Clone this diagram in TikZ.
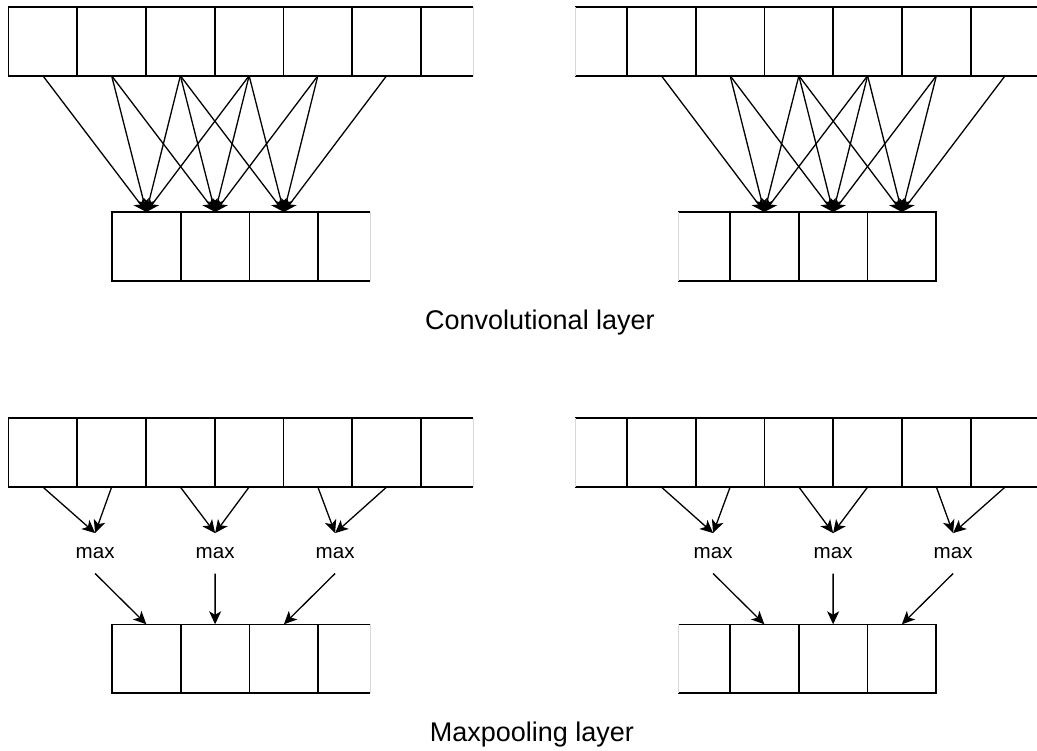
\documentclass[tikz,border=0pt]{standalone}
\usepackage{fontspec}
\setmainfont{Liberation Sans}
\usetikzlibrary{positioning,arrows.meta}
\tikzstyle{cell} = [rectangle, minimum width=68.75pt, minimum height=68.75pt, inner sep=0pt, outer sep=0pt, draw=black, line width=1.6pt]
\tikzstyle{halfcell} = [rectangle, minimum width=52pt, minimum height=68.75pt, inner sep=0pt, outer sep=0pt]
\tikzstyle{edge} = [draw=black, line width=1.6pt]
\tikzstyle{faint} = [draw=black!15, line width=1pt]
\tikzstyle{arrow} = [line width=1.3pt, -{Stealth[length=13pt,width=12pt,inset=3.5pt]}]
\tikzstyle{maxop} = [minimum width=50pt, minimum height=40pt, inner sep=0pt, font=\fontsize{20.6}{24}\selectfont]
\tikzstyle{caption} = [anchor=base, font=\fontsize{27}{32}\selectfont]
% cell cut off on one side: top and bottom only, faint open edge
\newcommand{\opencell}[2]{%
    \draw [edge] (#1.north west) -- (#1.north east) (#1.south west) -- (#1.south east);
    \draw [faint] (#1.north #2) -- (#1.south #2);}

\begin{document}
\begin{tikzpicture}[x=1pt, y=-1pt]
    \useasboundingbox (0,0) rectangle (1037,751);

    % convolutional layer, left
    \node (cinL1) [cell] at (42.875,41.375) {};
    \foreach \i [count=\j from 2] in {1,...,5}
        \node (cinL\j) [cell, right=0pt of cinL\i] {};
    \node (cinL7) [halfcell, right=0pt of cinL6] {};
    \opencell{cinL7}{east}
    \node (coutL1) [cell] at (146.375,246.375) {};
    \foreach \i [count=\j from 2] in {1,2}
        \node (coutL\j) [cell, right=0pt of coutL\i] {};
    \node (coutL4) [halfcell, right=0pt of coutL3] {};
    \opencell{coutL4}{east}
    \foreach \k in {1,2,3}
        \foreach \d in {0,...,3} {
            \pgfmathtruncatemacro{\s}{\k+\d}
            \draw [arrow] (cinL\s.south) -- (coutL\k.north);
        }

    % convolutional layer, right
    \node (cinR1) [cell] at (661.375,41.375) {};
    \node (cinR0) [halfcell, left=0pt of cinR1] {};
    \opencell{cinR0}{west}
    \foreach \i [count=\j from 2] in {1,...,5}
        \node (cinR\j) [cell, right=0pt of cinR\i] {};
    \node (coutR1) [cell] at (764.375,246.375) {};
    \node (coutR0) [halfcell, left=0pt of coutR1] {};
    \opencell{coutR0}{west}
    \foreach \i [count=\j from 2] in {1,2}
        \node (coutR\j) [cell, right=0pt of coutR\i] {};
    \foreach \k in {1,2,3}
        \foreach \d in {0,...,3} {
            \pgfmathtruncatemacro{\s}{\k+\d}
            \draw [arrow] (cinR\s.south) -- (coutR\k.north);
        }

    \node (convcap) [caption] at (540,330) {Convolutional layer};

    % maxpooling layer, left
    \node (pinL1) [cell] at (42.875,452.675) {};
    \foreach \i [count=\j from 2] in {1,...,5}
        \node (pinL\j) [cell, right=0pt of pinL\i] {};
    \node (pinL7) [halfcell, right=0pt of pinL6] {};
    \opencell{pinL7}{east}
    \node (poutL1) [cell] at (146.375,658.675) {};
    \foreach \i [count=\j from 2] in {1,2}
        \node (poutL\j) [cell, right=0pt of poutL\i] {};
    \node (poutL4) [halfcell, right=0pt of poutL3] {};
    \opencell{poutL4}{east}
    \foreach \k/\x in {1/95.1, 2/215.1, 3/335.1}
        \node (maxL\k) [maxop] at (\x,553.3) {max};
    \foreach \k in {1,2,3} {
        \pgfmathtruncatemacro{\a}{2*\k-1}
        \pgfmathtruncatemacro{\b}{2*\k}
        \draw [arrow] (pinL\a.south) -- (maxL\k.north);
        \draw [arrow] (pinL\b.south) -- (maxL\k.north);
        \draw [arrow] (maxL\k.south) -- (poutL\k.north);
    }

    % maxpooling layer, right
    \node (pinR1) [cell] at (661.375,452.675) {};
    \node (pinR0) [halfcell, left=0pt of pinR1] {};
    \opencell{pinR0}{west}
    \foreach \i [count=\j from 2] in {1,...,5}
        \node (pinR\j) [cell, right=0pt of pinR\i] {};
    \node (poutR1) [cell] at (764.375,658.675) {};
    \node (poutR0) [halfcell, left=0pt of poutR1] {};
    \opencell{poutR0}{west}
    \foreach \i [count=\j from 2] in {1,2}
        \node (poutR\j) [cell, right=0pt of poutR\i] {};
    \foreach \k/\x in {1/713.1, 2/833.1, 3/953.1}
        \node (maxR\k) [maxop] at (\x,553.3) {max};
    \foreach \k in {1,2,3} {
        \pgfmathtruncatemacro{\a}{2*\k-1}
        \pgfmathtruncatemacro{\b}{2*\k}
        \draw [arrow] (pinR\a.south) -- (maxR\k.north);
        \draw [arrow] (pinR\b.south) -- (maxR\k.north);
        \draw [arrow] (maxR\k.south) -- (poutR\k.north);
    }

    \node (poolcap) [caption] at (532,741.7) {Maxpooling layer};
\end{tikzpicture}
\end{document}
